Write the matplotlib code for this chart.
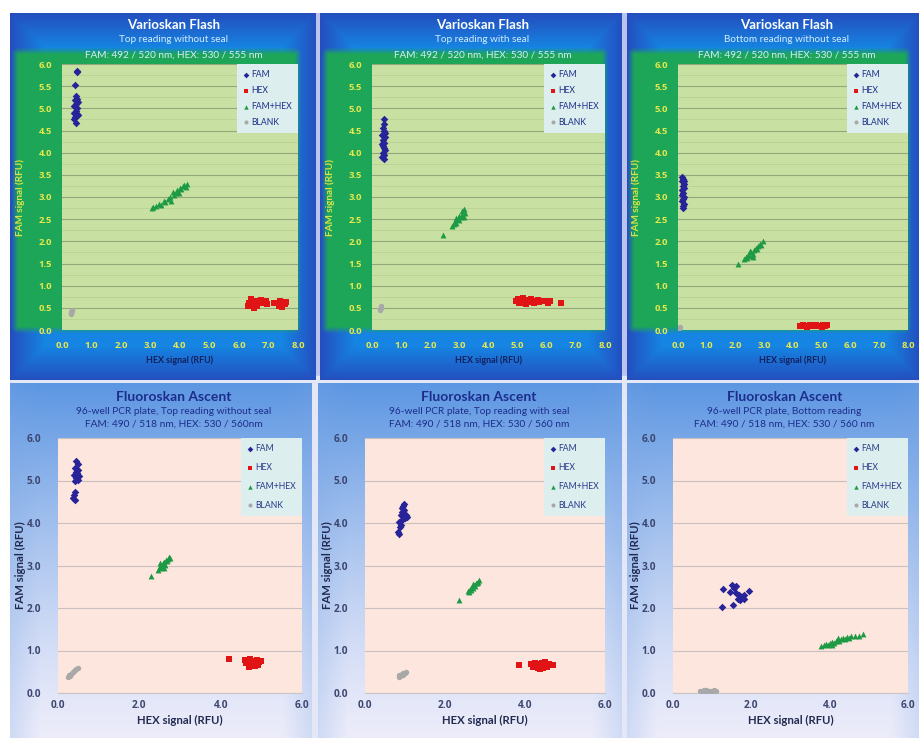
import numpy as np
import matplotlib
matplotlib.use("Agg")
import matplotlib.pyplot as plt
from matplotlib.ticker import MultipleLocator, FormatStrFormatter

plt.rcParams['font.family'] = ['Lato', 'DejaVu Sans']

# ---------------- DATA ----------------
series_names = ["FAM", "HEX", "FAM+HEX", "BLANK"]
axis_xlabel = "HEX signal (RFU)"
axis_ylabel = "FAM signal (RFU)"

top_titles = ["Varioskan Flash", "Varioskan Flash", "Varioskan Flash"]
top_sub1 = ["Top reading without seal", "Top reading with seal", "Bottom reading without seal"]
top_sub2 = ["FAM: 492 / 520 nm, HEX: 530 / 555 nm"] * 3
bot_titles = ["Fluoroskan Ascent", "Fluoroskan Ascent", "Fluoroskan Ascent"]
bot_sub1 = ["96-well PCR plate, Top reading without seal",
            "96-well PCR plate, Top reading with seal",
            "96-well PCR plate, Bottom reading"]
bot_sub2 = ["FAM: 490 / 518 nm, HEX: 530 / 560nm",
            "FAM: 490 / 518 nm, HEX: 530 / 560 nm",
            "FAM: 490 / 518 nm, HEX: 530 / 560 nm"]

# Varioskan, top reading without seal
p1_fam = [(0.50,5.85),(0.52,5.82),(0.45,5.53),(0.48,5.28),(0.52,5.22),(0.45,5.18),(0.55,5.15),(0.48,5.10),
          (0.42,5.05),(0.52,5.00),(0.47,4.95),(0.40,4.90),(0.50,4.88),(0.55,4.85),(0.45,4.80),(0.42,4.75),(0.48,4.68)]
p1_hex = [(6.30,0.55),(6.35,0.62),(6.40,0.70),(6.45,0.58),(6.55,0.65),(6.60,0.55),(6.70,0.62),(6.75,0.68),
          (6.85,0.60),(6.90,0.65),(6.95,0.58),(7.30,0.60),(7.35,0.55),(7.40,0.65),(7.45,0.52),(7.50,0.62),
          (7.55,0.58),(7.60,0.64),(6.50,0.50),(7.20,0.60)]
p1_mix = [(3.05,2.75),(3.10,2.78),(3.20,2.80),(3.30,2.85),(3.35,2.82),(3.45,2.90),(3.50,2.88),(3.60,2.95),
          (3.65,3.00),(3.70,2.92),(3.80,3.05),(3.85,3.10),(3.90,3.15),(3.95,3.08),(4.00,3.20),(4.05,3.18),
          (4.10,3.25),(4.20,3.22),(4.25,3.30),(3.75,3.12),(4.15,3.28)]
p1_blank = [(0.30,0.35),(0.32,0.40),(0.33,0.45),(0.31,0.38),(0.34,0.42)]

# Varioskan, top reading with seal
p2_fam = [(0.40,4.75),(0.42,4.65),(0.38,4.55),(0.41,4.48),(0.36,4.40),(0.44,4.35),(0.39,4.28),(0.42,4.22),
          (0.37,4.15),(0.40,4.10),(0.43,4.05),(0.38,4.00),(0.41,3.95),(0.36,3.90),(0.40,3.85),(0.44,4.45),(0.35,4.20)]
p2_hex = [(4.95,0.65),(5.00,0.70),(5.05,0.62),(5.10,0.68),(5.15,0.60),(5.20,0.72),(5.25,0.65),(5.30,0.58),
          (5.35,0.68),(5.40,0.63),(5.45,0.70),(5.50,0.66),(5.55,0.60),(5.70,0.68),(5.75,0.64),(5.80,0.66),
          (6.00,0.65),(6.05,0.62),(6.10,0.66),(6.50,0.62)]
p2_mix = [(2.45,2.15),(2.75,2.35),(2.80,2.40),(2.85,2.45),(2.90,2.42),(2.95,2.50),(3.00,2.48),(3.05,2.55),
          (3.10,2.60),(3.10,2.68),(3.15,2.72),(3.20,2.65),(3.00,2.58),(2.88,2.52),(3.15,2.55)]
p2_blank = [(0.28,0.45),(0.30,0.50),(0.31,0.55),(0.29,0.48)]

# Varioskan, bottom reading without seal
p3_fam = [(0.15,3.45),(0.18,3.40),(0.14,3.35),(0.20,3.30),(0.16,3.25),(0.22,3.20),(0.15,3.15),(0.19,3.10),
          (0.14,3.05),(0.21,3.00),(0.17,2.95),(0.15,2.90),(0.20,2.85),(0.16,2.80),(0.18,2.75),(0.22,3.35)]
p3_hex = [(4.25,0.08),(4.35,0.12),(4.45,0.10),(4.50,0.07),(4.60,0.11),(4.70,0.09),(4.80,0.12),(4.85,0.08),
          (4.95,0.10),(5.05,0.11),(5.10,0.09),(5.20,0.12),(4.40,0.08),(5.00,0.07)]
p3_mix = [(2.10,1.50),(2.30,1.60),(2.35,1.65),(2.40,1.62),(2.45,1.70),(2.50,1.68),(2.55,1.75),(2.60,1.72),
          (2.65,1.80),(2.70,1.85),(2.75,1.82),(2.80,1.90),(2.85,1.95),(2.90,1.92),(2.95,2.00),(2.50,1.78),(2.60,1.65)]
p3_blank = [(0.05,0.05),(0.06,0.06),(0.05,0.04)]

# Fluoroskan, top reading without seal
b1_fam = [(0.45,5.45),(0.48,5.38),(0.42,5.30),(0.50,5.25),(0.44,5.20),(0.47,5.15),(0.40,5.12),(0.52,5.10),
          (0.45,5.05),(0.42,5.00),(0.50,5.02),(0.43,4.72),(0.40,4.65),(0.38,4.60),(0.42,4.55),(0.47,5.18)]
b1_hex = [(4.20,0.80),(4.60,0.78),(4.62,0.70),(4.65,0.75),(4.70,0.68),(4.72,0.80),(4.75,0.65),(4.78,0.72),
          (4.80,0.76),(4.82,0.68),(4.85,0.74),(4.88,0.70),(4.90,0.78),(4.92,0.66),(4.95,0.72),(5.00,0.75),
          (4.70,0.62),(4.85,0.64)]
b1_mix = [(2.28,2.75),(2.45,2.90),(2.50,2.95),(2.52,3.00),(2.55,2.98),(2.58,3.05),(2.60,3.08),(2.62,3.02),
          (2.65,3.12),(2.68,3.10),(2.70,3.15),(2.72,3.20),(2.75,3.18),(2.60,2.95),(2.50,3.05)]
b1_blank = [(0.25,0.38),(0.28,0.42),(0.32,0.45),(0.35,0.48),(0.38,0.50),(0.42,0.53),(0.45,0.56),(0.30,0.40),
            (0.40,0.52),(0.48,0.58)]

# Fluoroskan, top reading with seal
b2_fam = [(0.85,3.75),(0.82,3.80),(0.88,3.90),(0.90,3.95),(0.86,4.02),(0.92,4.08),(0.95,4.15),(0.90,4.20),
          (1.00,4.12),(1.02,4.18),(0.93,4.25),(0.97,4.30),(0.95,4.40),(0.98,4.45),(0.92,4.35),(1.05,4.15)]
b2_hex = [(3.85,0.66),(4.15,0.68),(4.20,0.62),(4.25,0.70),(4.30,0.65),(4.32,0.60),(4.35,0.68),(4.40,0.63),
          (4.42,0.70),(4.45,0.58),(4.50,0.66),(4.55,0.62),(4.60,0.69),(4.65,0.65),(4.70,0.67),(4.38,0.56),(4.50,0.72)]
b2_mix = [(2.35,2.20),(2.58,2.40),(2.62,2.45),(2.65,2.42),(2.68,2.50),(2.70,2.48),(2.72,2.55),(2.75,2.52),
          (2.78,2.58),(2.80,2.60),(2.82,2.62),(2.85,2.65),(2.70,2.56),(2.60,2.38)]
b2_blank = [(0.85,0.38),(0.88,0.40),(0.90,0.42),(0.93,0.44),(0.96,0.46),(1.00,0.48),(0.86,0.42),(0.95,0.42),(1.03,0.50)]

# Fluoroskan, bottom reading
b3_fam = [(1.25,2.02),(1.28,2.45),(1.45,2.38),(1.50,2.55),(1.55,2.48),(1.52,2.08),(1.60,2.35),(1.62,2.52),
          (1.65,2.22),(1.70,2.18),(1.72,2.28),(1.75,2.25),(1.80,2.30),(1.82,2.22),(1.95,2.40),(1.68,2.30)]
b3_hex = []
b3_mix = [(3.78,1.10),(3.85,1.12),(3.90,1.15),(3.95,1.13),(4.00,1.18),(4.05,1.20),(4.10,1.17),(4.15,1.22),
          (4.20,1.25),(4.25,1.22),(4.30,1.28),(4.35,1.30),(4.40,1.27),(4.45,1.32),(4.50,1.30),(4.55,1.35),
          (4.65,1.33),(4.75,1.35),(4.85,1.38),(4.20,1.30),(4.05,1.12)]
b3_blank = [(0.70,0.04),(0.75,0.05),(0.80,0.03),(0.85,0.06),(0.90,0.04),(0.95,0.05),(1.00,0.04),(1.05,0.06),
            (1.10,0.05),(0.78,0.07),(0.98,0.02)]

# ---------------- LAYOUT / STYLE ----------------
W, H = 920, 738
fig = plt.figure(figsize=(W/100, H/100), dpi=100)
fig.patch.set_facecolor("white")
TICK_FONT = ['Open Sans', 'DejaVu Sans']

def rect(x0, y0, x1, y1):
    return [x0/W, 1 - y1/H, (x1-x0)/W, (y1-y0)/H]

# separator background
sep = fig.add_axes(rect(10, 13, 920, 738), zorder=0)
sep.set_axis_off()
sep.add_patch(plt.Rectangle((0, 0.5), 1, 0.5, color="#bcc4ee", transform=sep.transAxes))
sep.add_patch(plt.Rectangle((0, 0), 1, 0.5, color="#e4e8f6", transform=sep.transAxes))

marker_styles = [dict(marker="D", color="#27249a", s=15),
                 dict(marker="s", color="#e01414", s=16),
                 dict(marker="^", color="#1f9a44", s=18),
                 dict(marker="o", color="#a8a8a8", s=15)]

def top_bg(panel, plot):
    x0, y0, x1, y1 = panel
    w, h = x1 - x0, y1 - y0
    yy, xx = np.mgrid[0:h, 0:w].astype(float)
    e = np.minimum.reduce([xx, w - xx, yy, h - yy])
    t = np.clip(e / 34.0, 0, 1)[..., None]
    dark = np.array([36, 78, 190]) / 255
    mid = np.array([22, 132, 226]) / 255
    base = dark * (1 - t) + mid * t
    gx0, gy0, gx1, gy1 = plot[0] - x0 - 44, plot[1] - y0 - 10, plot[2] - x0 - 4, plot[3] - y0 - 4
    dx = np.maximum.reduce([gx0 - xx, xx - gx1, np.zeros_like(xx)])
    dy = np.maximum.reduce([gy0 - yy, yy - gy1, np.zeros_like(yy)])
    d = np.hypot(dx, dy)
    g = np.clip(1 - d / 7.0, 0, 1)[..., None]
    green = np.array([30, 166, 88]) / 255
    return base * (1 - g) + green * g

def bot_bg(panel):
    x0, y0, x1, y1 = panel
    w, h = x1 - x0, y1 - y0
    yy, xx = np.mgrid[0:h, 0:w].astype(float)
    t = (yy / h)[..., None]
    top = np.array([92, 150, 226]) / 255
    bot = np.array([236, 236, 250]) / 255
    base = top * (1 - t) ** 1.3 + bot * (1 - (1 - t) ** 1.3)
    ex = np.minimum(xx, w - xx)
    v = np.clip(1 - ex / 30.0, 0, 1)[..., None] * 0.25
    edge = np.array([120, 165, 228]) / 255
    return base * (1 - v) + edge * v

top_panels = [(10, 13, 316, 380), (320, 13, 622, 380), (627, 13, 920, 380)]
top_plots = [(62, 64, 298, 330), (372, 64, 605, 330), (678, 64, 908, 330)]
bot_panels = [(10, 383, 312, 738), (318, 383, 622, 738), (627, 383, 920, 738)]
bot_plots = [(58, 438, 302, 693), (365, 438, 605, 693), (673, 438, 908, 693)]

top_data = [[p1_fam, p1_hex, p1_mix, p1_blank],
            [p2_fam, p2_hex, p2_mix, p2_blank],
            [p3_fam, p3_hex, p3_mix, p3_blank]]
bot_data = [[b1_fam, b1_hex, b1_mix, b1_blank],
            [b2_fam, b2_hex, b2_mix, b2_blank],
            [b3_fam, b3_hex, b3_mix, b3_blank]]

def fig_text(x, y, s, **kw):
    fig.text(x / W, 1 - y / H, s, ha="center", va="center", **kw)

def scatter_series(ax, data):
    for name, pts, st in zip(series_names, data, marker_styles):
        arr = np.array(pts, dtype=float).reshape(-1, 2)
        ax.scatter(arr[:, 0], arr[:, 1], marker=st["marker"], s=st["s"], color=st["color"],
                   linewidths=0, label=name, zorder=3)

def add_legend(ax, textcolor, spacing):
    leg = ax.legend(loc="upper right", bbox_to_anchor=(1.0, 1.0), borderaxespad=0.0, frameon=True,
                    fontsize=6.2, labelspacing=spacing, handletextpad=0.2, handlelength=0.7,
                    borderpad=0.7, markerscale=0.75, fancybox=False)
    leg.get_frame().set_facecolor("#dcefee")
    leg.get_frame().set_edgecolor("none")
    leg.get_frame().set_alpha(1)
    for t in leg.get_texts():
        t.set_color(textcolor)
    return leg

def style_ticks(ax):
    for lab in ax.get_xticklabels() + ax.get_yticklabels():
        lab.set_fontweight("bold")
        lab.set_family(TICK_FONT)

# ---------------- TOP ROW ----------------
for i in range(3):
    panel, plot = top_panels[i], top_plots[i]
    bg = fig.add_axes(rect(*panel), zorder=1)
    bg.imshow(top_bg(panel, plot), aspect="auto", extent=(0, 1, 0, 1), interpolation="bilinear")
    bg.set_axis_off()

    ax = fig.add_axes(rect(*plot), zorder=2)
    ax.set_facecolor("#c8e1a2")
    ax.set_xlim(0, 8)
    ax.set_ylim(0, 6)
    ax.xaxis.set_major_locator(MultipleLocator(1))
    ax.yaxis.set_major_locator(MultipleLocator(0.5))
    ax.yaxis.set_minor_locator(MultipleLocator(0.25))
    ax.xaxis.set_major_formatter(FormatStrFormatter("%.1f"))
    ax.yaxis.set_major_formatter(FormatStrFormatter("%.1f"))
    ax.grid(axis="y", which="major", color="#93a77c", linewidth=0.8)
    ax.grid(axis="y", which="minor", color="#b6cf92", linewidth=0.5)
    ax.set_axisbelow(True)
    for s in ax.spines.values():
        s.set_visible(False)
    ax.tick_params(length=0, which="both", labelsize=6.8, labelcolor="#e6e84c")
    ax.tick_params(axis="y", pad=7)
    ax.tick_params(axis="x", pad=8)
    style_ticks(ax)
    scatter_series(ax, top_data[i])
    add_legend(ax, "#1e2f8a", 0.8)

    cx = (plot[0] + plot[2]) / 2 - 6
    fig_text(cx, 25, top_titles[i], color="white", fontsize=9.5, fontweight="bold", zorder=5)
    fig_text(cx, 40, top_sub1[i], color="#d6eeff", fontsize=7.2, zorder=5)
    fig_text(cx, 55, top_sub2[i], color="#d6eeff", fontsize=7.2, zorder=5)
    fig_text((plot[0] + plot[2]) / 2, 360, axis_xlabel, color="#13205a", fontsize=6.4,
             fontweight="bold", zorder=5)
    fig_text(plot[0] - 42, (plot[1] + plot[3]) / 2, axis_ylabel, color="#d9e24a", fontsize=7.2,
             fontweight="bold", rotation=90, zorder=5)

# ---------------- BOTTOM ROW ----------------
for i in range(3):
    panel, plot = bot_panels[i], bot_plots[i]
    bg = fig.add_axes(rect(*panel), zorder=1)
    bg.imshow(bot_bg(panel), aspect="auto", extent=(0, 1, 0, 1), interpolation="bilinear")
    bg.set_axis_off()

    ax = fig.add_axes(rect(*plot), zorder=2)
    ax.set_facecolor("#fde6dd")
    ax.set_xlim(0, 6)
    ax.set_ylim(0, 6)
    ax.xaxis.set_major_locator(MultipleLocator(2))
    ax.yaxis.set_major_locator(MultipleLocator(1))
    ax.xaxis.set_major_formatter(FormatStrFormatter("%.1f"))
    ax.yaxis.set_major_formatter(FormatStrFormatter("%.1f"))
    ax.grid(axis="y", color="#c9c1c0", linewidth=0.8)
    ax.set_axisbelow(True)
    for s in ax.spines.values():
        s.set_visible(False)
    ax.spines["bottom"].set_visible(True)
    ax.spines["bottom"].set_color("#c6c6c6")
    ax.tick_params(length=0, labelsize=7.3, labelcolor="#3c4670")
    ax.tick_params(axis="y", pad=12)
    ax.tick_params(axis="x", pad=5)
    style_ticks(ax)
    scatter_series(ax, bot_data[i])
    add_legend(ax, "#2a3a8a", 1.15)

    cx = (plot[0] + plot[2]) / 2 - 6
    fig_text(cx, 397, bot_titles[i], color="#1c2d8c", fontsize=10, fontweight="bold", zorder=5)
    fig_text(cx, 411, bot_sub1[i], color="#1c2d8c", fontsize=7.3, zorder=5)
    fig_text(cx, 424, bot_sub2[i], color="#1c2d8c", fontsize=7.3, zorder=5)
    fig_text((plot[0] + plot[2]) / 2, 720, axis_xlabel, color="#222a50", fontsize=8.2,
             fontweight="bold", zorder=5)
    fig_text(plot[0] - 38, (plot[1] + plot[3]) / 2, axis_ylabel, color="#222a50", fontsize=8.2,
             fontweight="bold", rotation=90, zorder=5)

fig.savefig("out.png", dpi=100, facecolor=fig.get_facecolor())
